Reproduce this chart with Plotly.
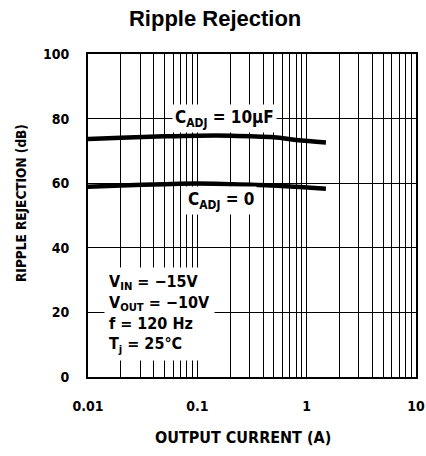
import plotly.graph_objects as go

# Data
current_a = [0.01, 0.02, 0.05, 0.1, 0.2, 0.5, 0.8, 1.5]
rej_cadj_10uf = [73.7, 74.1, 74.5, 74.7, 74.7, 74.2, 73.4, 72.6]
rej_cadj_0 = [58.9, 59.3, 59.7, 59.9, 59.7, 59.3, 58.9, 58.3]

x_tickvals = [0.01, 0.1, 1, 10]
x_ticktext = ["0.01", "0.1", "1", "10"]
y_tickvals = [0, 20, 40, 60, 80, 100]

minor_vals = [m * d for d in [0.01, 0.1, 1] for m in range(2, 10)]

FONT = "DejaVu Sans Condensed"

fig = go.Figure()
for ys in (rej_cadj_10uf, rej_cadj_0):
    fig.add_trace(go.Scatter(x=current_a, y=ys, mode="lines",
                             line=dict(color="black", width=4.5, shape="spline"),
                             showlegend=False, hoverinfo="skip"))

fig.update_layout(
    width=426, height=456,
    margin=dict(l=88, r=10, t=54, b=79, autoexpand=False),
    paper_bgcolor="white", plot_bgcolor="white",
    font=dict(family=FONT, color="black", size=13, weight="bold"),
    title=dict(text="Ripple Rejection", x=0.505, xanchor="center", y=0.9605, yanchor="middle",
               automargin=False,
               font=dict(family="Liberation Sans", size=22, weight="bold")),
    xaxis=dict(type="log", range=[-2, 1], tickvals=x_tickvals, ticktext=x_ticktext,
               automargin=False, ticklabeloverflow="allow",
               showgrid=True, gridcolor="black", gridwidth=1.3,
               showline=True, linecolor="black", linewidth=2, mirror=True,
               ticks="", ticklen=0, zeroline=False, ticklabelstandoff=15,
               tickfont=dict(size=14, family=FONT, weight="bold"),
               minor=dict(tickvals=minor_vals, showgrid=True, gridcolor="black", gridwidth=1.3, ticks="")),
    yaxis=dict(range=[0, 100], tickvals=y_tickvals,
               automargin=False,
               showgrid=True, gridcolor="black", gridwidth=1.3,
               showline=True, linecolor="black", linewidth=2, mirror=True,
               ticks="", zeroline=False, ticklabelstandoff=14,
               tickfont=dict(size=14, family=FONT, weight="bold")),
)

# axis titles
fig.add_annotation(x=0.4726, y=-0.186, xref="paper", yref="paper",
                   xanchor="center", yanchor="middle", showarrow=False,
                   text="OUTPUT CURRENT (A)",
                   font=dict(size=16, family=FONT, weight="bold"))
fig.add_annotation(x=-0.204, y=0.539, xref="paper", yref="paper",
                   xanchor="center", yanchor="middle", showarrow=False, textangle=-90,
                   text="RIPPLE REJECTION (dB)",
                   font=dict(size=13.5, family=FONT, weight="bold"))

fig.add_annotation(x=-0.756, y=80, xref="x", yref="y",
                   text="C<sub>ADJ</sub> = 10µF", showarrow=False,
                   bgcolor="white", borderpad=2,
                   font=dict(size=17, family=FONT, weight="bold"))
fig.add_annotation(x=-0.78, y=54.5, xref="x", yref="y",
                   text="C<sub>ADJ</sub> = 0", showarrow=False,
                   bgcolor="white", borderpad=2,
                   font=dict(size=17, family=FONT, weight="bold"))
fig.add_annotation(x=-1.85, y=19.5, xref="x", yref="y", xanchor="left", yanchor="middle",
                   align="left",
                   text="V<sub>IN</sub> = −15V<br>V<sub>OUT</sub> = −10V<br>f = 120 Hz<br>T<sub>j</sub> = 25°C",
                   showarrow=False, bgcolor="white", borderpad=4,
                   font=dict(size=16, family=FONT, weight="bold"))

fig.write_html("out.html", config={"displayModeBar": False},
               post_script="document.body.style.margin='0';document.body.style.overflow='hidden';")
